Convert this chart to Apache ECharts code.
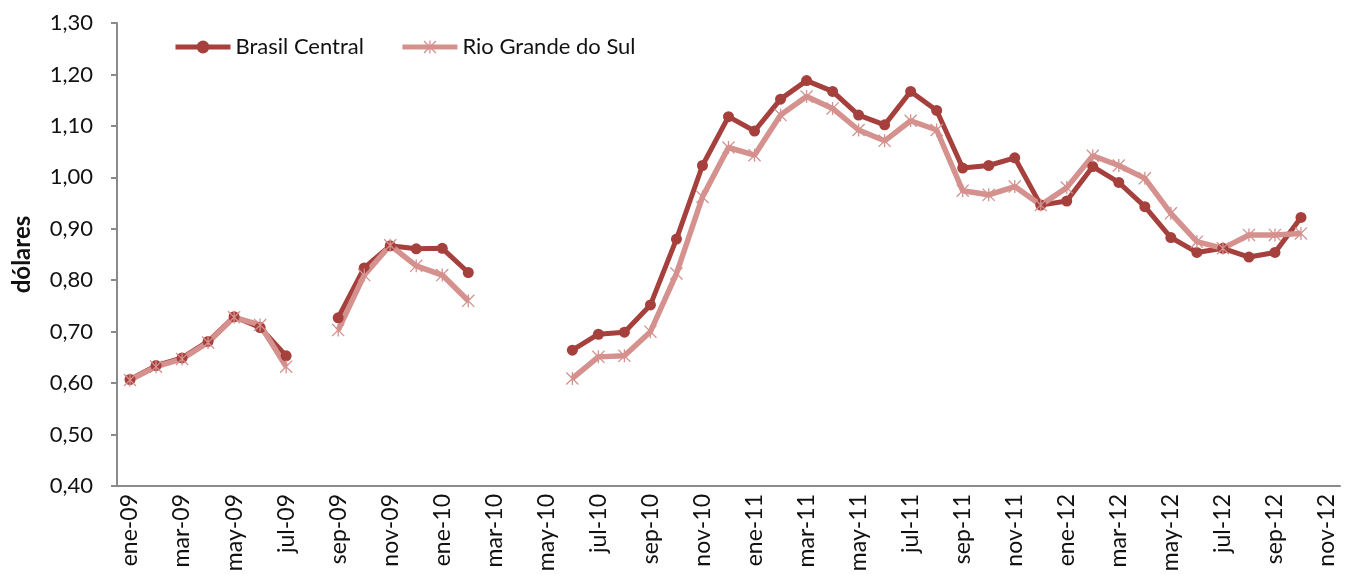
<!DOCTYPE html>
<html>
<head>
<meta charset="utf-8">
<script src="https://cdn.jsdelivr.net/npm/echarts@6/dist/echarts.min.js"></script>
<style>
  html, body { margin: 0; padding: 0; background: #fff; }
  #chart { width: 1354px; height: 576px; }
</style>
</head>
<body>
<div id="chart"></div>
<script>
const months = ['ene', 'feb', 'mar', 'abr', 'may', 'jun', 'jul', 'ago', 'sep', 'oct', 'nov', 'dic']
const years = ['09', '10', '11', '12']
const categories = []
years.forEach(y => months.forEach(m => categories.push(m + '-' + y)))
categories.length = 47 // ene-09 .. nov-12

const brasilCentral = [
  0.607, 0.634, 0.649, 0.681, 0.729, 0.708, 0.653, null, 0.727, 0.824, 0.867, 0.861,
  0.862, 0.815, null, null, null, 0.664, 0.695, 0.699, 0.752, 0.880, 1.023, 1.118,
  1.090, 1.152, 1.188, 1.167, 1.121, 1.102, 1.167, 1.130, 1.018, 1.023, 1.038, 0.946,
  0.954, 1.021, 0.990, 0.943, 0.883, 0.854, 0.862, 0.845, 0.854, 0.922, null
]
const rioGrandeDoSul = [
  0.606, 0.632, 0.647, 0.679, 0.728, 0.713, 0.632, null, 0.703, 0.810, 0.868, 0.828,
  0.810, 0.760, null, null, null, 0.609, 0.651, 0.653, 0.700, 0.813, 0.962, 1.058,
  1.043, 1.121, 1.157, 1.134, 1.092, 1.071, 1.110, 1.092, 0.974, 0.966, 0.982, 0.946,
  0.980, 1.042, 1.023, 0.998, 0.930, 0.875, 0.862, 0.888, 0.888, 0.891, null
]

const darkRed = '#A5403D'
const lightRed = '#D4918E'
const axisGray = '#8a8a8a'
const font = 'Lato, "Open Sans", sans-serif'
// asterisk marker (Excel "star")
const asterisk = 'path://M4.5 0L5.5 0L5.5 10L4.5 10Z M0 0.7L0.7 0L10 9.3L9.3 10Z M9.3 0L10 0.7L0.7 10L0 9.3Z'

const chart = echarts.init(document.getElementById('chart'))
chart.setOption({
  animation: false,
  backgroundColor: '#fff',
  textStyle: { fontFamily: font },
  grid: { left: 117, right: 14, top: 23, bottom: 90, containLabel: false },
  legend: {
    left: 168,
    top: 31,
    itemWidth: 55,
    itemHeight: 16,
    itemGap: 36,
    lineStyle: { width: 5 },
    textStyle: { fontSize: 22, color: '#111', fontFamily: font },
    data: ['Brasil Central', 'Rio Grande do Sul']
  },
  xAxis: {
    type: 'category',
    data: categories,
    boundaryGap: true,
    axisLine: { lineStyle: { color: axisGray, width: 2 } },
    axisTick: { interval: 1, length: 6, lineStyle: { color: axisGray, width: 2 } },
    axisLabel: { interval: 1, rotate: 90, fontSize: 23, color: '#111', margin: 8 }
  },
  yAxis: {
    type: 'value',
    min: 0.4,
    max: 1.3,
    interval: 0.1,
    name: 'dólares',
    nameLocation: 'middle',
    nameGap: 83,
    nameTextStyle: { fontSize: 24, fontWeight: 'bold', color: '#111' },
    splitLine: { show: false },
    axisLine: { show: true, lineStyle: { color: axisGray, width: 2 } },
    axisTick: { show: true, length: 6, lineStyle: { color: axisGray, width: 2 } },
    axisLabel: {
      fontSize: 22,
      color: '#111',
      margin: 24,
      formatter: v => v.toFixed(2).replace('.', ',')
    }
  },
  series: [
    {
      name: 'Brasil Central',
      type: 'line',
      data: brasilCentral,
      symbol: 'circle',
      symbolSize: 11,
      showAllSymbol: true,
      lineStyle: { color: darkRed, width: 5 },
      itemStyle: { color: darkRed }
    },
    {
      name: 'Rio Grande do Sul',
      type: 'line',
      data: rioGrandeDoSul,
      symbol: asterisk,
      symbolSize: 13,
      showAllSymbol: true,
      lineStyle: { color: lightRed, width: 5.5 },
      itemStyle: { color: lightRed }
    }
  ]
})
</script>
</body>
</html>
